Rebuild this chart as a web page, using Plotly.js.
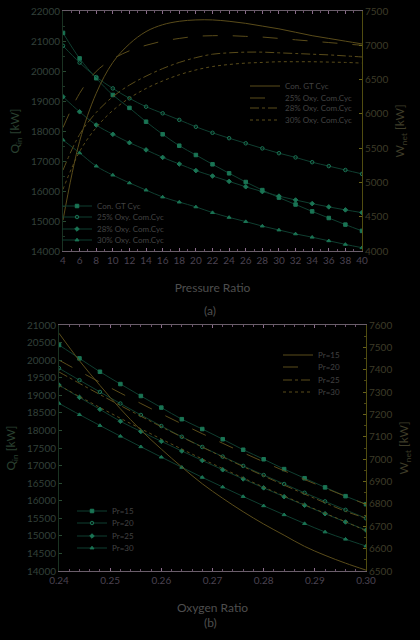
<!DOCTYPE html>
<html>
<head>
<meta charset="utf-8">
<script src="https://cdn.plot.ly/plotly-3.0.1.min.js"></script>
<style>html,body{margin:0;padding:0;background:#000;}#chart{width:420px;height:640px;}</style>
</head>
<body>
<div id="chart"></div>
<script>
// ---------- (a) Pressure ratio ----------
const pressureRatio = [4,6,8,10,12,14,16,18,20,22,24,26,28,30,32,34,36,38,40];
const qConA = [21270,20420,19760,19200,18770,18310,17890,17510,17200,16890,16590,16300,16030,15780,15550,15320,15100,14880,14670];
const q25A  = [20840,20280,19800,19420,19090,18810,18590,18370,18140,17940,17760,17590,17420,17260,17120,16960,16830,16700,16570];
const q28A  = [19140,18640,18200,17890,17610,17370,17120,16900,16680,16500,16320,16140,15980,15830,15700,15580,15470,15370,15280];
const q30A  = [17700,17270,16830,16530,16270,16030,15800,15630,15470,15280,15120,14980,14830,14700,14570,14460,14340,14220,14110];
const wConA = [4450,5600,6300,6750,7020,7200,7300,7350,7370,7370,7350,7320,7280,7240,7190,7140,7100,7060,7020];
const w25A  = [5800,6300,6620,6800,6920,7000,7060,7100,7130,7140,7140,7130,7120,7100,7080,7060,7040,7020,7000];
const w28A  = [5180,5700,6020,6250,6420,6550,6660,6750,6820,6870,6890,6900,6900,6890,6880,6870,6860,6845,6830];
const w30A  = [4900,5450,5800,6050,6230,6370,6480,6570,6640,6690,6720,6740,6750,6760,6760,6760,6755,6750,6740];
const seriesNamesA = ["Con. GT Cyc","25% Oxy. Com.Cyc","28% Oxy. Com.Cyc","30% Oxy. Com.Cyc"];

// ---------- (b) Oxygen ratio ----------
const oxygenRatio = [0.240,0.244,0.248,0.252,0.256,0.260,0.264,0.268,0.272,0.276,0.280,0.284,0.288,0.292,0.296,0.300];
const qPr15 = [20430,20050,19670,19320,18980,18650,18320,18040,17750,17450,17180,16900,16640,16380,16130,15900];
const qPr20 = [19770,19430,19095,18765,18440,18125,17820,17530,17255,16990,16730,16475,16225,15980,15740,15500];
const qPr25 = [19290,18940,18600,18260,17970,17690,17415,17145,16880,16620,16365,16115,15870,15630,15395,15165];
const qPr30 = [18770,18450,18140,17835,17535,17240,16950,16665,16390,16120,15855,15600,15350,15110,14905,14710];
const wPr15 = [7563,7440,7330,7225,7130,7045,6965,6890,6825,6765,6710,6660,6610,6570,6535,6504];
const wPr20 = [7443,7393,7344,7296,7249,7203,7158,7114,7071,7029,6988,6948,6909,6871,6834,6798];
const wPr25 = [7390,7339,7289,7240,7192,7145,7099,7054,7010,6967,6925,6884,6844,6805,6767,6736];
const wPr30 = [7330,7280,7231,7183,7136,7090,7045,7001,6958,6916,6875,6835,6796,6758,6720,6680];
const seriesNamesB = ["Pr=15","Pr=20","Pr=25","Pr=30"];

const qLine = '#0f3e30', qMark = '#1a7454', wLine = '#5a4c1a';
const qSymbols = ['square','circle-open','diamond','triangle-up'];
const wDashes = ['solid','longdash','dashdot','dot'];
const FONT = 'Lato, Open Sans, sans-serif';

const traces = [];
const legendPos = {};
let lg = 1;
function addLegend(xpx, ypx){
  const id = lg === 1 ? 'legend' : 'legend' + lg;
  legendPos[id] = [xpx, ypx];
  lg++;
  return id;
}
const qA = [qConA,q25A,q28A,q30A], wA = [wConA,w25A,w28A,w30A];
const qB = [qPr15,qPr20,qPr25,qPr30], wB = [wPr15,wPr20,wPr25,wPr30];
const legAQ = [206,217,229,240], legAW = [86,98,108,120];
const legBQ = [511,523,536,548], legBW = [355,367,380,392];

for (let i=0;i<4;i++){
  traces.push({x:pressureRatio,y:wA[i],xaxis:'x',yaxis:'y2',mode:'lines',name:seriesNamesA[i],showlegend:true,
    line:{color:wLine,width:1,dash:wDashes[i],shape:'spline'},legend:addLegend(245,legAW[i])});
}
for (let i=0;i<4;i++){
  traces.push({x:pressureRatio,y:qA[i],xaxis:'x',yaxis:'y',mode:'lines+markers',name:seriesNamesA[i],showlegend:true,
    line:{color:qLine,width:1,shape:'spline'},marker:{symbol:qSymbols[i],size:3.5,color:qMark,line:{color:qMark,width:1}},
    legend:addLegend(57,legAQ[i])});
}
for (let i=0;i<4;i++){
  traces.push({x:oxygenRatio,y:wB[i],xaxis:'x2',yaxis:'y4',mode:'lines',name:seriesNamesB[i],showlegend:true,
    line:{color:wLine,width:1,dash:wDashes[i],shape:'spline'},legend:addLegend(278,legBW[i])});
}
for (let i=0;i<4;i++){
  traces.push({x:oxygenRatio,y:qB[i],xaxis:'x2',yaxis:'y3',mode:'lines+markers',name:seriesNamesB[i],showlegend:true,
    line:{color:qLine,width:1,shape:'spline'},marker:{symbol:qSymbols[i],size:3.5,color:qMark,line:{color:qMark,width:1}},
    legend:addLegend(72,legBQ[i])});
}

const W=420,H=640;
const tickFontX = {family:FONT,size:10,color:'#4a4250'};
const tickFontL = {family:FONT,size:10,color:'#33403a'};
const tickFontR = {family:FONT,size:10,color:'#3e3c28'};
const titleFont = {family:FONT,size:12,color:'#4e4e4e'};

function xAxis(domain, range, dtick, minorDtick, anchor, title, fmt){
  return {domain:domain, range:range, dtick:dtick, tick0:range[0], anchor:anchor,
    showline:true, linecolor:'#6a5e6a', linewidth:1, mirror:'ticks', ticks:'inside', ticklen:3, tickcolor:'#8a6a8a',
    minor:{dtick:minorDtick, ticks:'inside', ticklen:2, tickcolor:'#6a4e6a'},
    showgrid:false, zeroline:false, tickfont:tickFontX, tickformat:fmt||'',
    title:{text:title, font:titleFont, standoff:18}};
}
function yAxisL(domain, range, dtick, anchor, title){
  return {domain:domain, range:range, dtick:dtick, anchor:anchor, side:'left', tickformat:'d',
    showline:true, linecolor:'#1a3222', linewidth:1, ticks:'inside', ticklen:3, tickcolor:'#284a32',
    minor:{ticks:'inside', ticklen:2, tickcolor:'#1e3a28', nticks:2},
    showgrid:false, zeroline:false, tickfont:tickFontL,
    title:{text:title, font:{family:FONT,size:12,color:'#2a4030'}, standoff:8}};
}
function yAxisR(range, dtick, overlay, anchor, title){
  return {range:range, dtick:dtick, overlaying:overlay, anchor:anchor, side:'right', tickformat:'d',
    showline:true, linecolor:'#504c10', linewidth:1, ticks:'inside', ticklen:3, tickcolor:'#686218',
    minor:{ticks:'inside', ticklen:2, tickcolor:'#4c4814', nticks:2},
    showgrid:false, zeroline:false, tickfont:tickFontR,
    title:{text:title, font:{family:FONT,size:12,color:'#3e3c28'}, standoff:8}};
}

const layout = {
  width:W, height:H, paper_bgcolor:'#000', plot_bgcolor:'#000', showlegend:true,
  margin:{l:0,r:0,t:0,b:0}, font:{family:FONT,color:'#4e4e4e'},
  xaxis: xAxis([63/W,362/W],[4,40],2,1,'y','Pressure Ratio'),
  yaxis: yAxisL([1-251/H,1-11/H],[14000,22000],1000,'x','Q<sub>in</sub> [kW]'),
  yaxis2: yAxisR([4000,7500],500,'y','x','W<sub>net</sub> [kW]'),
  xaxis2: xAxis([59/W,366/W],[0.24,0.30],0.01,0.002,'y3','Oxygen Ratio','.2f'),
  yaxis3: yAxisL([1-571/H,1-325/H],[14000,21000],500,'x2','Q<sub>in</sub> [kW]'),
  yaxis4: yAxisR([6500,7600],100,'y3','x2','W<sub>net</sub> [kW]'),
  annotations:[
    {text:'(a)',x:210/W,y:1-310/H,xref:'paper',yref:'paper',showarrow:false,font:titleFont},
    {text:'(b)',x:210/W,y:1-632/H,xref:'paper',yref:'paper',showarrow:false,font:titleFont}
  ]
};
for (const id in legendPos){
  const p = legendPos[id];
  layout[id] = {x:p[0]/W, y:1-p[1]/H, xanchor:'left', yanchor:'middle', bgcolor:'rgba(0,0,0,0)',
    borderwidth:0, font:{family:FONT,size:8,color:'#424242'}, itemwidth:30, visible:true};
}
Plotly.newPlot('chart', traces, layout, {displayModeBar:false, staticPlot:true});
</script>
</body>
</html>
